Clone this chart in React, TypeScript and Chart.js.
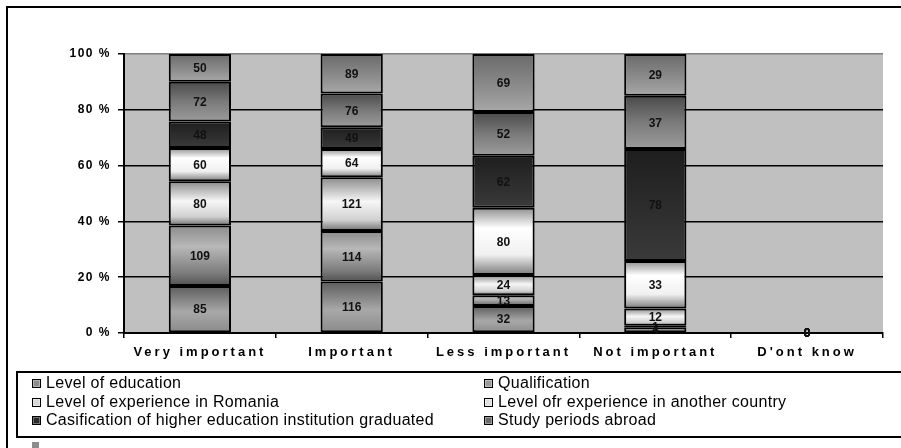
import React, { useEffect, useRef } from "react";
import { Chart, registerables } from "chart.js";

Chart.register(...registerables);

const categories = ["Very important", "Important", "Less important", "Not important", "D'ont know"];
const seriesNames = [
  "Level of education",
  "Qualification",
  "Level of experience in Romania",
  "Level ofr experience in another country",
  "Casification of higher education institution graduated",
  "Study periods abroad",
  "",
];
const levelOfEducation = [85, 116, 32, 4, 0];
const qualification = [109, 114, 13, 1, 0];
const experienceRomania = [80, 121, 24, 12, 0];
const experienceAbroad = [60, 64, 80, 33, 0];
const casification = [48, 49, 62, 78, 0];
const studyAbroad = [72, 76, 52, 37, 0];
const unnamedSeries = [50, 89, 69, 29, 0];
const yTicks = [0, 20, 40, 60, 80, 100];

const allSeries = [levelOfEducation, qualification, experienceRomania, experienceAbroad, casification, studyAbroad, unnamedSeries];

// gradient stops top -> bottom for each series
const gradients: [number, string][][] = [
  [[0, "#5c5c5c"], [0.55, "#a8a8a8"], [1, "#8a8a8a"]],
  [[0, "#8c8c8c"], [0.35, "#b8b8b8"], [0.8, "#7a7a7a"], [1, "#505050"]],
  [[0, "#8a8a8a"], [0.45, "#f6f6f6"], [0.8, "#d0d0d0"], [1, "#707070"]],
  [[0, "#909090"], [0.3, "#ffffff"], [0.7, "#f0f0f0"], [1, "#7a7a7a"]],
  [[0, "#1e1e1e"], [1, "#3a3a3a"]],
  [[0, "#4a4a4a"], [0.5, "#7a7a7a"], [1, "#9c9c9c"]],
  [[0, "#6a6a6a"], [0.6, "#8e8e8e"], [1, "#a8a8a8"]],
];
const legendSwatch = ["#8a8a8a", "#9a9a9a", "#d8d8d8", "#e0e0e0", "#2a2a2a", "#6a6a6a", "#8c8c8c"];

const totals = categories.map((_, i) => allSeries.reduce((s, arr) => s + arr[i], 0));
const pct = allSeries.map((arr) => arr.map((v, i) => (totals[i] ? (v / totals[i]) * 100 : 0)));

const FONT = "Arial, 'Liberation Sans', sans-serif";

export default function App() {
  const ref = useRef<HTMLCanvasElement>(null);
  useEffect(() => {
    if (!ref.current) return;
    const bgPlugin = {
      id: "bg",
      beforeDraw(chart: any) {
        const { ctx, chartArea } = chart;
        ctx.save();
        ctx.fillStyle = "#c0c0c0";
        ctx.fillRect(chartArea.left, chartArea.top, chartArea.right - chartArea.left, chartArea.bottom - chartArea.top);
        ctx.restore();
        ["x", "y"].forEach((id) => {
          const sc = chart.scales[id];
          if (sc && !sc.__patched) {
            const orig = sc.drawLabels.bind(sc);
            sc.drawLabels = (area: any) => {
              const prev = ctx.letterSpacing;
              ctx.letterSpacing = id === "x" ? "3px" : "1.5px";
              orig(area);
              ctx.letterSpacing = prev || "0px";
            };
            sc.__patched = true;
          }
        });
      },
      afterDatasetsDraw(chart: any) {
        const { ctx } = chart;
        ctx.save();
        ctx.letterSpacing = "0px";
        ctx.font = "bold 12px " + FONT;
        ctx.fillStyle = "#111";
        ctx.textAlign = "center";
        ctx.textBaseline = "middle";
        chart.data.datasets.forEach((ds: any, di: number) => {
          const meta = chart.getDatasetMeta(di);
          meta.data.forEach((el: any, i: number) => {
            const raw = allSeries[di][i];
            const y = (el.y + el.base) / 2;
            ctx.fillText(String(raw), el.x, y + 1);
          });
        });
        ctx.restore();
      },
    };
    const chart = new Chart(ref.current, {
      type: "bar",
      data: {
        labels: categories,
        datasets: allSeries.map((_, di) => ({
          label: seriesNames[di],
          data: pct[di],
          borderColor: "#000",
          borderWidth: 2,
          borderSkipped: false,
          barPercentage: 0.41,
          categoryPercentage: 1,
          backgroundColor: (c: any) => {
            const chart = c.chart;
            const y = chart.scales?.y;
            if (!y || c.dataIndex === undefined) return legendSwatch[di];
            let start = 0;
            for (let k = 0; k < di; k++) start += pct[k][c.dataIndex];
            const end = start + pct[di][c.dataIndex];
            const yTop = y.getPixelForValue(end);
            const yBot = y.getPixelForValue(start);
            if (!isFinite(yTop) || !isFinite(yBot) || yBot - yTop < 0.5) return legendSwatch[di];
            const g = chart.ctx.createLinearGradient(0, yTop, 0, yBot);
            gradients[di].forEach(([o, col]) => g.addColorStop(o, col));
            return g;
          },
        })),
      },
      options: {
        animation: false,
        responsive: false,
        maintainAspectRatio: false,
        layout: { padding: { top: 54, right: 18, left: 0, bottom: 0 } },
        plugins: { legend: { display: false }, tooltip: { enabled: false }, title: { display: false } },
        scales: {
          x: {
            stacked: true,
            afterFit: (s: any) => { s.height = 115; },
            grid: { offset: true, drawOnChartArea: false, drawTicks: true, tickLength: 5, color: "#000", lineWidth: 1.5 },
            border: { display: true, color: "#000", width: 2 },
            ticks: { color: "#000", font: { family: FONT, size: 13, weight: "bold" }, padding: 7, maxRotation: 0, autoSkip: false },
          },
          y: {
            stacked: true,
            min: 0,
            max: 100,
            afterFit: (s: any) => { s.width = 124; },
            afterBuildTicks: (s: any) => { s.ticks = yTicks.map((v) => ({ value: v })); },
            grid: {
              color: (c: any) => (c.tick && c.tick.value === 100 ? "#808080" : "#000"),
              tickColor: "#000",
              lineWidth: 1.5,
              tickLength: 6,
            },
            border: { display: true, color: "#000", width: 2 },
            ticks: {
              color: "#000",
              font: { family: FONT, size: 12, weight: "bold" },
              padding: 7,
              callback: (v: any) => v + " %",
            },
          },
        },
      },
      plugins: [bgPlugin],
    } as any);
    return () => chart.destroy();
  }, []);

  const legendRow = (idx: number, left: number, top: number) => (
    <div key={idx} style={{ position: "absolute", left, top, height: 18, display: "flex", alignItems: "center", whiteSpace: "nowrap" }}>
      <span style={{ display: "inline-block", width: 7, height: 7, background: legendSwatch[idx], border: idx === 6 ? "none" : "1px solid #000", marginRight: 5, boxShadow: idx === 6 ? "none" : "inset 0 0 0 1px rgba(255,255,255,0.35)" }} />
      <span style={{ fontFamily: FONT, fontSize: 16, letterSpacing: "0.3px", color: "#000" }}>{seriesNames[idx]}</span>
    </div>
  );

  return (
    <div style={{ position: "absolute", left: 0, top: 0, width: 901, height: 448, overflow: "hidden", background: "#fff" }}>
      <canvas ref={ref} width={901} height={448} style={{ position: "absolute", left: 0, top: 0, width: 901, height: 448 }} />
      <div style={{ position: "absolute", left: 6, top: 6, width: 920, height: 460, borderLeft: "2px solid #000", borderTop: "2px solid #000", pointerEvents: "none" }} />
      <div style={{ position: "absolute", left: 16, top: 371, width: 920, height: 67, border: "2px solid #000", boxSizing: "border-box" }} />
      {legendRow(0, 32, 374)}
      {legendRow(1, 484, 374)}
      {legendRow(2, 32, 393)}
      {legendRow(3, 484, 393)}
      {legendRow(4, 32, 411)}
      {legendRow(5, 484, 411)}
      {legendRow(6, 32, 436)}
    </div>
  );
}
